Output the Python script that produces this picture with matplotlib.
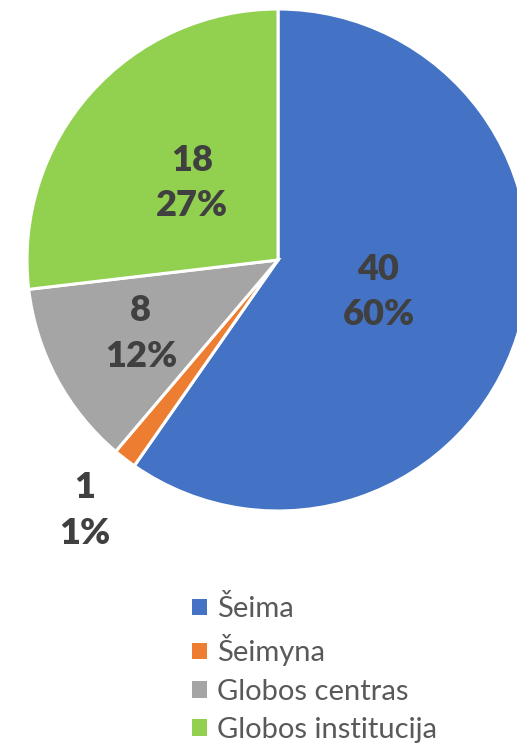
import numpy as np
import matplotlib.pyplot as plt
from matplotlib.patches import Patch

plt.rcParams['font.family'] = ['Lato', 'DejaVu Sans']

# duomenys
labels = ["Šeima", "Šeimyna", "Globos centras", "Globos institucija"]
values = [40, 1, 8, 18]
colors = ["#4472C4", "#ED7D31", "#A5A5A5", "#92D050"]
# kur dėti užrašą (dalis spindulio)
label_r = [0.42, 1.26, 0.62, 0.46]

W, H = 517, 752
fig = plt.figure(figsize=(W / 100, H / 100), dpi=100)
ax = fig.add_axes([0, 0, 1, 1])

cx, cy, R = 278, H - 260, 251
wedges, _ = ax.pie(values, colors=colors, startangle=90, counterclock=False,
                   center=(cx, cy), radius=R, frame=True,
                   wedgeprops=dict(edgecolor='white', linewidth=2.2))
ax.set_xlim(0, W)
ax.set_ylim(0, H)
ax.set_aspect('equal')
ax.axis('off')

total = sum(values)
for w, v, r in zip(wedges, values, label_r):
    mid = np.deg2rad((w.theta1 + w.theta2) / 2)
    x = cx + r * R * np.cos(mid)
    y = cy + r * R * np.sin(mid)
    ax.text(x, y, f"{v}\n{round(v / total * 100)}%", ha='center', va='center',
            fontsize=26, fontweight='heavy', color='#404040', linespacing=1.45)

handles = [Patch(facecolor=c, edgecolor='none') for c in colors]
leg = fig.legend(handles, labels, loc='upper left', bbox_to_anchor=(166 / W, 1 - 569 / H),
                 frameon=False, fontsize=21, handlelength=0.5, handleheight=0.5,
                 handletextpad=0.35, labelspacing=0.42, labelcolor='#595959')

fig.savefig("out.png", dpi=100)
